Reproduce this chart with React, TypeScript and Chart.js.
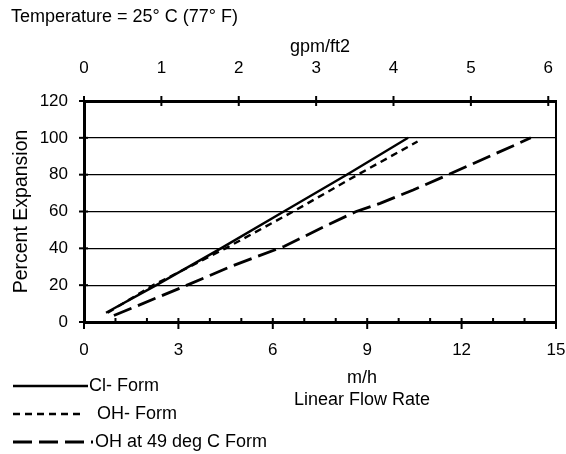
import { useEffect, useRef } from 'react';
import { Chart, registerables } from 'chart.js';

Chart.register(...registerables);

// ---- data (m/h linear flow rate vs percent expansion) ----
const CL_FLOW = [0.7, 2.3, 4.35, 6.35, 8.35, 10.3];
const CL_EXPANSION = [5, 20, 40, 60, 80, 100];
const OH_FLOW = [0.75, 2.2, 4.5, 6.65, 8.7, 10.6];
const OH_EXPANSION = [5, 20, 40, 60, 80, 98];
const OH49_FLOW = [0.95, 3.18, 4.67, 6.37, 7.64, 8.65, 9.41, 10.46, 11.58, 13.85, 14.2];
const OH49_EXPANSION = [3.5, 19.3, 30.2, 41.1, 51.9, 60, 64.4, 71.7, 80, 97.3, 100];
const SERIES_LABELS = ['Cl- Form', 'OH- Form', 'OH at 49 deg C Form'];

// ---- axes ----
const X_MIN = 0;
const X_MAX = 15;
const X_LABEL_STEP = 3;
const X_MINOR_STEP = 1;
const X2_MIN = 0;
const X2_MAX = 6.1;
const X2_STEP = 1;
const Y_MIN = 0;
const Y_MAX = 120;
const Y_STEP = 20;

const TITLE_TEXT = 'Temperature = 25° C (77° F)';
const X_TITLE = ['m/h', 'Linear Flow Rate'];
const X2_TITLE = 'gpm/ft2';
const Y_TITLE = 'Percent Expansion';

const FONT = '"Liberation Sans", Arial, Helvetica, sans-serif';

const toPoints = (xs: number[], ys: number[]) => xs.map((x, i) => ({ x, y: ys[i] }));

const decorPlugin = {
  id: 'decor',
  afterDraw(chart: any) {
    const { ctx, chartArea } = chart;
    const { left, right, top, bottom } = chartArea;
    const xs = chart.scales.x;
    const x2 = chart.scales.x2;
    const ys = chart.scales.y;
    const line = (ax: number, ay: number, bx: number, by: number) => {
      ctx.beginPath();
      ctx.moveTo(ax, ay);
      ctx.lineTo(bx, by);
      ctx.stroke();
    };
    ctx.save();
    ctx.strokeStyle = '#000';
    ctx.setLineDash([]);
    // right frame
    ctx.lineWidth = 2;
    line(right, top, right, bottom);
    // bottom ticks
    ctx.lineWidth = 2;
    for (let v = X_MIN; v <= X_MAX; v += X_MINOR_STEP) {
      const px = xs.getPixelForValue(v);
      const major = v % X_LABEL_STEP === 0;
      line(px, bottom - 4, px, bottom + (major ? 7 : 1));
    }
    // top ticks
    x2.ticks.forEach((t: any) => {
      const px = x2.getPixelForValue(t.value);
      line(px, top - 5, px, top + 5);
    });
    // left ticks
    ys.ticks.forEach((t: any) => {
      const py = ys.getPixelForValue(t.value);
      line(left - 5, py, left + 4, py);
    });

    // page title
    ctx.fillStyle = '#000';
    ctx.font = `18px ${FONT}`;
    ctx.textBaseline = 'middle';
    ctx.textAlign = 'left';
    ctx.fillText(TITLE_TEXT, 11, 17);

    // bottom axis title
    ctx.textAlign = 'center';
    ctx.fillText(X_TITLE[0], 362, 378);
    ctx.fillText(X_TITLE[1], 362, 400);

    // legend
    const legendY = [386, 414, 442];
    const lineEnd = [88, 82, 93];
    const textX = [89, 97, 95];
    chart.data.datasets.forEach((ds: any, i: number) => {
      ctx.strokeStyle = '#000';
      ctx.lineWidth = ds.borderWidth;
      ctx.setLineDash(ds.borderDash || []);
      line(13, legendY[i], lineEnd[i], legendY[i]);
      ctx.setLineDash([]);
      ctx.textAlign = 'left';
      ctx.fillText(ds.label, textX[i], legendY[i]);
    });
    ctx.restore();
  },
};

export default function App() {
  const ref = useRef<HTMLCanvasElement>(null);
  useEffect(() => {
    const cv = ref.current;
    if (!cv) return;
    const chart = new Chart(cv, {
      type: 'line',
      data: {
        datasets: [
          {
            label: SERIES_LABELS[0],
            data: toPoints(CL_FLOW, CL_EXPANSION),
            borderColor: '#000',
            borderWidth: 2.4,
            pointRadius: 0,
            tension: 0,
            xAxisID: 'x',
            yAxisID: 'y',
          },
          {
            label: SERIES_LABELS[1],
            data: toPoints(OH_FLOW, OH_EXPANSION),
            borderColor: '#000',
            borderWidth: 2.4,
            borderDash: [7, 5],
            pointRadius: 0,
            tension: 0,
            xAxisID: 'x',
            yAxisID: 'y',
          },
          {
            label: SERIES_LABELS[2],
            data: toPoints(OH49_FLOW, OH49_EXPANSION),
            borderColor: '#000',
            borderWidth: 2.8,
            borderDash: [19, 7],
            pointRadius: 0,
            tension: 0,
            xAxisID: 'x',
            yAxisID: 'y',
          },
        ],
      },
      options: {
        animation: false,
        responsive: true,
        maintainAspectRatio: false,
        layout: { padding: { left: 0, right: 10, top: 0, bottom: 0 } },
        plugins: {
          legend: { display: false },
          title: { display: false },
          tooltip: { enabled: false },
        },
        scales: {
          x: {
            type: 'linear',
            position: 'bottom',
            min: X_MIN,
            max: X_MAX,
            grid: { display: false },
            border: { display: true, color: '#000', width: 3 },
            ticks: {
              stepSize: X_LABEL_STEP,
              autoSkip: false,
              maxRotation: 0,
              color: '#000',
              padding: 10,
              font: { size: 17, family: FONT },
            },
            afterFit: (s: any) => {
              s.height = 132;
              s.paddingLeft = 0;
              s.paddingRight = 0;
            },
          },
          x2: {
            type: 'linear',
            position: 'top',
            display: true,
            min: X2_MIN,
            max: X2_MAX,
            grid: { display: false },
            border: { display: true, color: '#000', width: 3 },
            ticks: {
              stepSize: X2_STEP,
              includeBounds: false,
              autoSkip: false,
              maxRotation: 0,
              color: '#000',
              padding: 14,
              font: { size: 17, family: FONT },
            },
            title: {
              display: true,
              text: X2_TITLE,
              color: '#000',
              font: { size: 18, family: FONT },
              padding: { top: 36, bottom: 0 },
            },
            afterFit: (s: any) => {
              s.height = 101;
              s.paddingLeft = 0;
              s.paddingRight = 0;
            },
          },
          y: {
            type: 'linear',
            position: 'left',
            min: Y_MIN,
            max: Y_MAX,
            grid: {
              display: true,
              drawOnChartArea: true,
              drawTicks: false,
              color: '#000',
              lineWidth: 1.2,
            },
            border: { display: true, color: '#000', width: 3 },
            ticks: {
              stepSize: Y_STEP,
              color: '#000',
              padding: 16,
              font: { size: 17, family: FONT },
            },
            title: {
              display: true,
              text: Y_TITLE,
              color: '#000',
              font: { size: 19.5, family: FONT },
              padding: { top: 10, bottom: 0 },
            },
            afterFit: (s: any) => {
              s.width = 84;
              s.paddingTop = 0;
              s.paddingBottom = 0;
            },
          },
        },
      },
      plugins: [decorPlugin],
    } as any);
    return () => chart.destroy();
  }, []);
  return (
    <div style={{ position: 'fixed', left: 0, top: 0, width: 566, height: 454, background: '#fff' }}>
      <canvas ref={ref} />
    </div>
  );
}
